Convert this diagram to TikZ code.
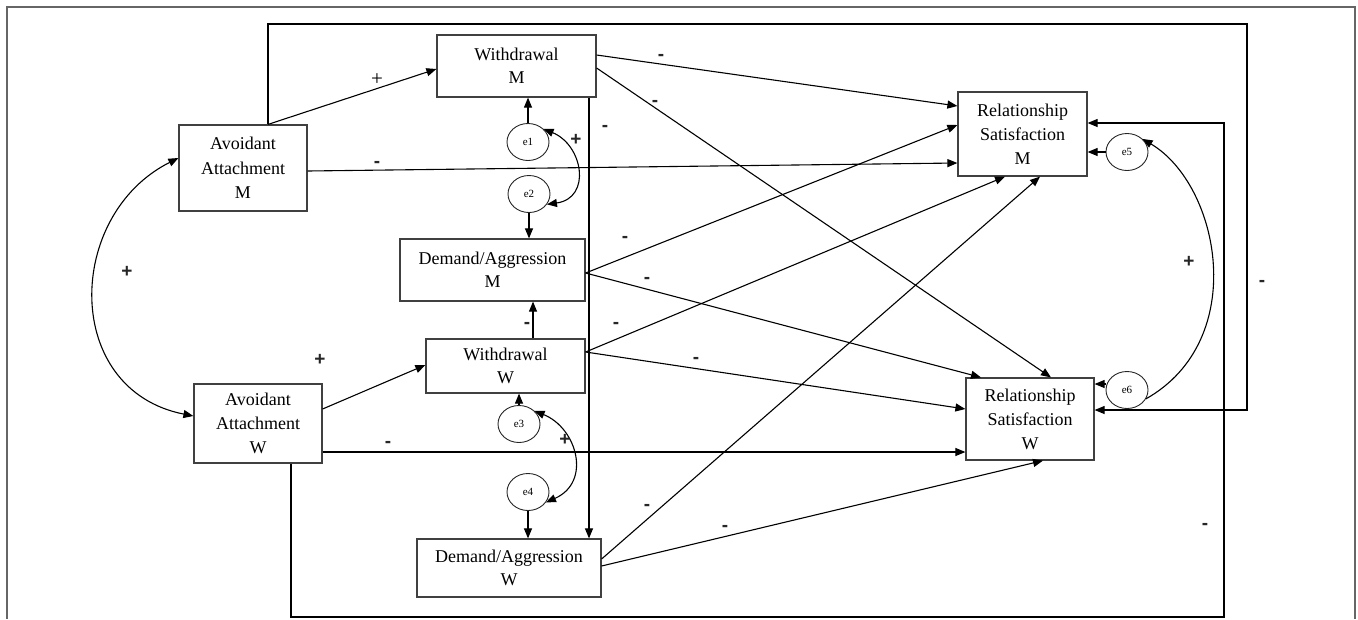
\documentclass[tikz,border=0pt]{standalone}
\usepackage{fontspec}
\setmainfont{Liberation Serif}
\newfontfamily\lsans{Liberation Sans}
\usetikzlibrary{arrows.meta,calc,shapes.geometric}
\begin{document}
\begin{tikzpicture}[x=1pt,y=-1pt,
  box/.style={draw=black!75, line width=1.2pt, align=center, inner sep=0pt, font=\fontsize{18}{23}\selectfont},
  err/.style={draw=black!85, ellipse, line width=0.9pt, minimum width=42pt, minimum height=37pt, inner sep=0pt, font=\fontsize{11}{11}\selectfont},
  arr/.style={-{Triangle[length=10pt,width=8pt]}, line width=1.1pt},
  dbl/.style={{Triangle[length=10pt,width=8pt]}-{Triangle[length=10pt,width=8pt]}, line width=1.1pt},
  sgn/.style={font=\lsans\bfseries\fontsize{19}{19}\selectfont, text=black!85, inner sep=0pt},
  frame/.style={draw=black!60, line width=1.6pt}
]
\useasboundingbox (0,0) rectangle (1358,619);
% outer frame
\draw[frame] (7,619) -- (7,7) -- (1355,7) -- (1355,619);

% boxes
\node[box, minimum width=159pt, minimum height=62pt] (WM) at (516.5,66) {Withdrawal\\M};
\node[box, minimum width=128pt, minimum height=86pt, font=\fontsize{18}{24.5}\selectfont] (AAM) at (243,168) {Avoidant\\Attachment\\M};
\node[box, minimum width=129pt, minimum height=84pt, font=\fontsize{18}{24}\selectfont] (RSM) at (1022.5,134) {Relationship\\Satisfaction\\M};
\node[box, minimum width=185pt, minimum height=62pt] (DAM) at (492.5,270) {Demand/Aggression\\M};
\node[box, minimum width=159pt, minimum height=54pt] (WW) at (505.5,366) {Withdrawal\\W};
\node[box, minimum width=128pt, minimum height=79pt, font=\fontsize{18}{24}\selectfont] (AAW) at (258,423.5) {Avoidant\\Attachment\\W};
\node[box, minimum width=128pt, minimum height=82pt, font=\fontsize{18}{24}\selectfont] (RSW) at (1030,419) {Relationship\\Satisfaction\\W};
\node[box, minimum width=184pt, minimum height=58pt] (DAW) at (509,568) {Demand/Aggression\\W};

% error terms
\node[err] (e1) at (528,142) {e1};
\node[err] (e2) at (529,194) {e2};
\node[err] (e3) at (519,424) {e3};
\node[err] (e4) at (528,492) {e4};
\node[err] (e5) at (1127,152) {e5};
\node[err] (e6) at (1127,390) {e6};

% error arrows
\draw[arr] (e1.north) -- (WM.south -| e1.north);
\draw[arr] (e2.south) -- (DAM.north -| e2.south);
\draw[arr] (e3.north) -- (WW.south -| e3.north);
\draw[arr] (e4.south) -- (DAW.north -| e4.south);
\draw[arr] (e5.west) -- (RSM.east |- e5.west);
\draw[arr] (e6.west |- 0,384) -- (RSW.east |- 0,384);

% covariances
\draw[dbl] (AAM.west |- 0,158) .. controls (65,215) and (62,390) .. (AAW.west |- 0,416);
\draw[dbl] (e1.40) .. controls (583,145) and (592,198) .. (e2.-30);
\draw[dbl] (e3.40) .. controls (577,428) and (592,482) .. (e4.-30);
\draw[{Triangle[length=10pt,width=8pt]}-, line width=1.1pt] (e5.40) .. controls (1220,185) and (1250,340) .. (e6.-25);

% paths from Avoidant Attachment M
\draw[arr] (AAM.north -| 268,0) -- (WM.west |- 0,69);
\draw[arr] (AAM.east |- 0,171) -- (RSM.west |- 0,163);
\draw[arr] (AAM.north -| 268,0) -- (268,24) -- (1247,24) -- (1247,410) -- (RSW.east |- 0,410);

% paths from Avoidant Attachment W
\draw[arr] (AAW.east |- 0,409) -- (WW.west |- 0,365);
\draw[arr] (AAW.east |- 0,452) -- (RSW.west |- 0,452);
\draw[arr] (AAW.south -| 291,0) -- (291,617) -- (1224,617) -- (1224,123) -- (RSM.east |- 0,123);

% paths from Withdrawal M
\draw[arr] (WM.east |- 0,55) -- (RSM.west |- 0,106);
\draw[arr] (WM.east |- 0,68) -- (RSW.north -| 1051,0);
\draw[arr] (WM.south -| 589,0) -- (DAW.north -| 589,0);

% paths from Demand/Aggression M
\draw[arr] (DAM.east |- 0,273) -- (RSM.west |- 0,125);
\draw[arr] (DAM.east |- 0,273) -- (RSW.north -| 981,0);

% paths from Withdrawal W
\draw[arr] (WW.north -| 533,0) -- (DAM.south -| 533,0);
\draw[arr] (WW.east |- 0,352) -- (RSM.south -| 1005,0);
\draw[arr] (WW.east |- 0,352) -- (RSW.west |- 0,409);

% paths from Demand/Aggression W
\draw[arr] (DAW.east |- 0,559) -- (RSM.south -| 1040,0);
\draw[arr] (DAW.east |- 0,566) -- (RSW.south -| 1043,0);

% signs
\node[font=\fontsize{21}{21}\selectfont, inner sep=0pt] (s1) at (377,80) {+};
\node[sgn] (s2) at (377,164) {-};
\node[sgn] (s3) at (127,272) {+};
\node[sgn] (s4) at (320,360) {+};
\node[sgn] (s5) at (388,444) {-};
\node[sgn] (s6) at (576,140) {+};
\node[sgn] (s7) at (565,440) {+};
\node[sgn] (s8) at (605,128) {-};
\node[sgn] (s9) at (527,325) {-};
\node[sgn] (s10) at (661,57) {-};
\node[sgn] (s11) at (655,103) {-};
\node[sgn] (s12) at (625,239) {-};
\node[sgn] (s13) at (647,280) {-};
\node[sgn] (s14) at (616,325) {-};
\node[sgn] (s15) at (696,360) {-};
\node[sgn] (s16) at (647,507) {-};
\node[sgn] (s17) at (725,528) {-};
\node[sgn] (s18) at (1189,262) {+};
\node[sgn] (s19) at (1262,283) {-};
\node[sgn] (s20) at (1205,526) {-};
\end{tikzpicture}
\end{document}
